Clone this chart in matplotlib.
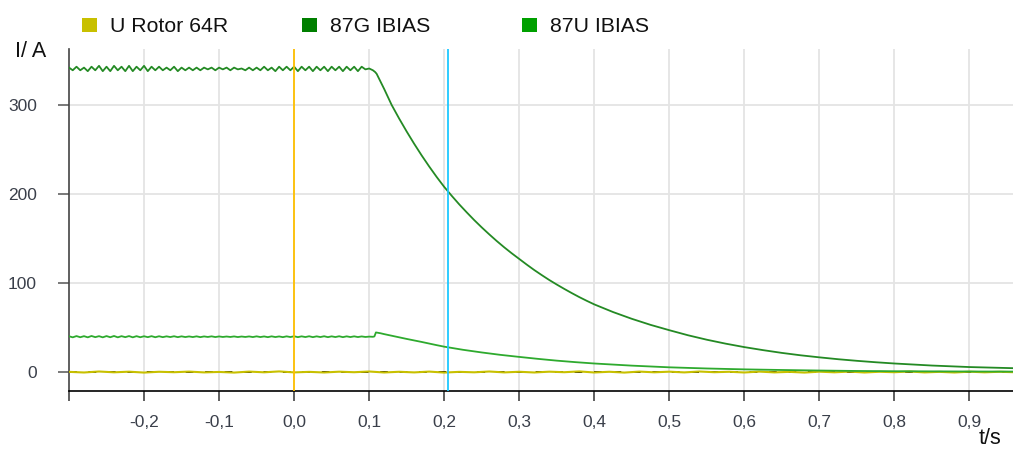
import numpy as np
import matplotlib
matplotlib.use("Agg")
import matplotlib.pyplot as plt
from matplotlib.patches import Rectangle
from matplotlib.ticker import FixedLocator, FuncFormatter

plt.rcParams['font.family'] = ['Liberation Sans', 'DejaVu Sans']

# legend entries
labels = ["U Rotor 64R", "87G IBIAS", "87U IBIAS"]
legend_colors = ["#c8c000", "#007f00", "#00a000"]

# pre-fault samples every 5 ms from -0.3 s to 0.105 s
t_pre = np.round(np.arange(82) * 0.005 - 0.3, 3)
g_pre = [342, 339, 343, 339, 342, 338, 343, 339, 344, 338,
         343, 338, 344, 339, 343, 338, 344, 338, 343, 339,
         344, 338, 343, 339, 343, 339, 342, 339, 343, 338,
         342, 339, 342, 339, 342, 339, 342, 340, 342, 339,
         342, 340, 342, 339, 342, 340, 341, 339, 342, 339,
         342, 339, 343, 339, 342, 338, 343, 339, 343, 339,
         343, 338, 343, 339, 343, 338, 343, 339, 343, 338,
         343, 339, 343, 338, 343, 339, 343, 338, 343, 340,
         341, 339]
u_pre = [40.2, 39.0, 40.4, 39.1, 40.3, 39.0, 40.5, 39.2, 40.3, 39.0,
         40.4, 39.1, 40.5, 39.0, 40.3, 39.2, 40.4, 39.0, 40.3, 39.1,
         40.2, 39.2, 40.3, 39.1, 40.2, 39.2, 40.1, 39.3, 40.2, 39.2,
         40.1, 39.3, 40.0, 39.3, 40.1, 39.2, 40.0, 39.4, 40.1, 39.3,
         40.0, 39.4, 39.9, 39.4, 40.0, 39.3, 39.9, 39.4, 40.0, 39.3,
         40.1, 39.3, 40.0, 39.2, 40.1, 39.3, 40.0, 39.2, 40.1, 39.3,
         40.2, 39.2, 40.1, 39.3, 40.2, 39.2, 40.1, 39.3, 40.2, 39.2,
         40.1, 39.3, 40.2, 39.2, 40.1, 39.3, 40.1, 39.3, 40.0, 39.4,
         39.8, 39.6]

# post-fault decay
t_g_post = [0.108, 0.11, 0.12, 0.13, 0.14, 0.15, 0.16, 0.17, 0.18, 0.19,
            0.2, 0.21, 0.22, 0.23, 0.24, 0.25, 0.26, 0.27, 0.28, 0.29,
            0.3, 0.31, 0.32, 0.33, 0.34, 0.35, 0.36, 0.37, 0.38, 0.39,
            0.4, 0.425, 0.45, 0.475, 0.5, 0.525, 0.55, 0.575, 0.6, 0.625,
            0.65, 0.675, 0.7, 0.725, 0.75, 0.775, 0.8, 0.825, 0.85, 0.875,
            0.9, 0.93, 0.96]
g_post = [337, 335, 318, 300, 284.7, 270.2, 256.4, 243.3, 230.9, 219.1,
          208, 198.0, 188.4, 179.4, 170.7, 162.5, 154.7, 147.2, 140.1, 133.4,
          127, 120.7, 114.6, 108.9, 103.4, 98.3, 93.4, 88.7, 84.2, 80.0,
          76, 67.4, 59.8, 53.0, 47, 41.3, 36.3, 31.9, 28, 24.6,
          21.5, 18.8, 16.5, 14.4, 12.6, 11.0, 9.6, 8.4, 7.3, 6.4,
          5.6, 4.9, 4.3]
t_u_post = [0.107, 0.109, 0.115, 0.12, 0.13, 0.14, 0.15, 0.16, 0.17, 0.18,
            0.19, 0.2, 0.225, 0.25, 0.275, 0.3, 0.325, 0.35, 0.375, 0.4,
            0.45, 0.5, 0.55, 0.6, 0.65, 0.7, 0.75, 0.8, 0.9, 0.96]
u_post = [40, 44.5, 43.6, 42.6, 40.8, 39, 37.2, 35.5, 33.8, 32,
          30.2, 28.5, 25, 22, 19.3, 17, 14.8, 12.8, 11.1, 9.6,
          7.2, 5.3, 4, 3, 2.3, 1.7, 1.2, 0.9, 0.6, 0.5]

# rotor trace, every 20 ms
t_rotor = np.linspace(-0.3, 0.96, 64)
rotor = [0.2, -0.5, 0.6, -0.3, 0.4, -0.6, 0.3, -0.2, 0.5, -0.4,
         0.1, -0.6, 0.5, -0.3, 0.7, -0.4, 0.2, -0.5, 0.4, -0.2,
         0.6, -0.5, 0.3, -0.4, 0.5, -0.6, 0.2, -0.3, 0.6, -0.4,
         0.3, -0.5, 0.4, -0.2, 0.7, -0.5, 0.3, -0.6, 0.5, -0.3,
         0.4, -0.4, 0.6, -0.2, 0.3, -0.5, 0.5, -0.4, 0.2, -0.6,
         0.4, -0.3, 0.5, -0.5, 0.3, -0.2, 0.6, -0.4, 0.2, -0.5,
         0.4, -0.3, 0.3, -0.2]
t_base = [-0.3, 0.96]
base = [0.0, 0.0]

cursors = [0.0, 0.205]
cursor_colors = ["#ffc000", "#1ec8ff"]

x_ticks = [-0.3, -0.2, -0.1, 0.0, 0.1, 0.2, 0.3, 0.4, 0.5, 0.6, 0.7, 0.8, 0.9]
y_ticks = [0, 100, 200, 300]

W, H = 1013, 450
fig = plt.figure(figsize=(W / 100, H / 100), dpi=100)
ax = fig.add_axes([69 / W, 1 - 391 / H, 1 - 69 / W, (391 - 49) / H])

ax.set_xlim(-0.3, 0.958)
ax.set_ylim(-21.3, 362.9)

for x in x_ticks[1:]:
    ax.axvline(x, color="#e4e4e4", lw=1.3, zorder=0)
for y in y_ticks[1:]:
    ax.axhline(y, color="#e4e4e4", lw=1.3, zorder=0)

ax.plot(t_base, base, color="black", lw=1.4, ls=(0, (4, 6)), zorder=2)
ax.plot(t_rotor, rotor, color="#c8c000", lw=1.5, zorder=3)
ax.plot(list(t_pre) + t_u_post, u_pre + u_post, color="#2eaa2e", lw=1.3, zorder=3)
ax.plot(list(t_pre) + t_g_post, g_pre + g_post, color="#248a24", lw=1.3, zorder=3)

for c, col in zip(cursors, cursor_colors):
    ax.axvline(c, color=col, lw=1.3, zorder=4)

ax.spines['top'].set_visible(False)
ax.spines['right'].set_visible(False)
ax.spines['left'].set_color("#444444")
ax.spines['bottom'].set_color("black")
ax.spines['left'].set_linewidth(1.2)
ax.spines['bottom'].set_linewidth(1.2)

ax.xaxis.set_major_locator(FixedLocator(x_ticks))
ax.xaxis.set_major_formatter(FuncFormatter(
    lambda v, p: "" if v < -0.25 else ("%.1f" % v).replace(".", ",").replace("-0,0", "0,0")))
ax.yaxis.set_major_locator(FixedLocator(y_ticks))
ax.tick_params(axis='x', length=7, width=1.1, color="#333333", pad=10,
               labelsize=12.5, labelcolor="#3a3f4a")
ax.tick_params(axis='y', length=8, width=1.1, color="#555555", pad=15,
               labelsize=12.5, labelcolor="#3a3f4a")

# legend drawn by hand along the top
for i, (lab, col) in enumerate(zip(labels, legend_colors)):
    x0 = 82 + i * 220
    fig.add_artist(Rectangle((x0 / W, 1 - 32 / H), 15 / W, 14 / H,
                             transform=fig.transFigure, color=col, lw=0))
    fig.text((x0 + 28) / W, 1 - 32 / H, lab, fontsize=15.3, color="#111111", va="baseline")

fig.text(15 / W, 1 - 57 / H, "I/ A", fontsize=15.5, color="#111111", va="baseline")
fig.text(979 / W, 1 - 444 / H, "t/s", fontsize=15.5, color="#111111", va="baseline")

fig.savefig("out.png", dpi=100)
